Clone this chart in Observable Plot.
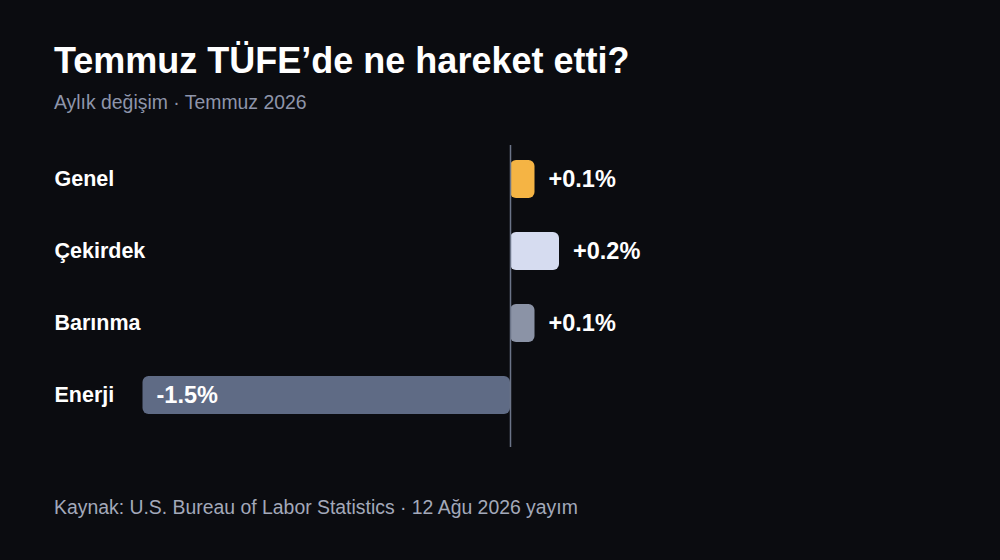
<!DOCTYPE html>
<html><head><meta charset="utf-8">
<script src="https://cdn.jsdelivr.net/npm/d3@7"></script>
<script src="https://cdn.jsdelivr.net/npm/@observablehq/plot@0.6"></script>
<style>
html,body{margin:0;padding:0;background:#0b0c10;}
body{width:1000px;height:560px;overflow:hidden;font-family:"Liberation Sans",Arial,sans-serif;position:relative;}
#title{position:absolute;left:54px;top:41px;margin:0;font-size:36px;font-weight:bold;color:#ffffff;line-height:40px;}
#sub{position:absolute;left:54px;top:91px;font-size:19.4px;color:#8e95aa;line-height:22px;}
#chart{position:absolute;left:0;top:125px;}
#cap{position:absolute;left:54px;top:496px;font-size:19.4px;color:#a3a9ba;line-height:22px;}
</style></head>
<body>
<h1 id="title">Temmuz TÜFE’de ne hareket etti?</h1>
<div id="sub">Aylık değişim · Temmuz 2026</div>
<div id="chart"></div>
<div id="cap">Kaynak: U.S. Bureau of Labor Statistics · 12 Ağu 2026 yayım</div>
<script>
const categories = ["Genel", "Çekirdek", "Barınma", "Enerji"];
const values = [0.1, 0.2, 0.1, -1.5];
const colors = ["#f5b444", "#d6dcf0", "#8b93a6", "#5f6b85"];
const valueLabels = ["+0.1%", "+0.2%", "+0.1%", "-1.5%"];

const data = categories.map((c, i) => ({cat: c, value: values[i], color: colors[i], label: valueLabels[i]}));

const chart = Plot.plot({
  width: 1000,
  height: 340,
  marginTop: 20,
  marginBottom: 18,
  marginLeft: 54,
  marginRight: 0,
  style: {background: "transparent", fontFamily: "Liberation Sans, Arial, sans-serif"},
  x: {domain: [-1.5, 0.2], range: [142.5, 559], axis: null},
  y: {domain: categories, range: [18, 306], padding: 0, axis: null},
  marks: [
    Plot.barX(data, {x: "value", y: "cat", fill: "color", insetTop: 17, insetBottom: 17, rx: 6}),
    Plot.ruleX([0], {stroke: "#6b7488", strokeWidth: 1.5}),
    Plot.text(data, {x: "value", y: "cat", text: "label", textAnchor: "start", dx: 13.5, fill: "#ffffff", fontSize: 23.5, fontWeight: "bold"}),
    Plot.text(data, {y: "cat", text: "cat", frameAnchor: "left", textAnchor: "start", fill: "#ffffff", fontSize: 21.5, fontWeight: "bold"})
  ]
});
document.getElementById("chart").appendChild(chart);
</script>
</body></html>
